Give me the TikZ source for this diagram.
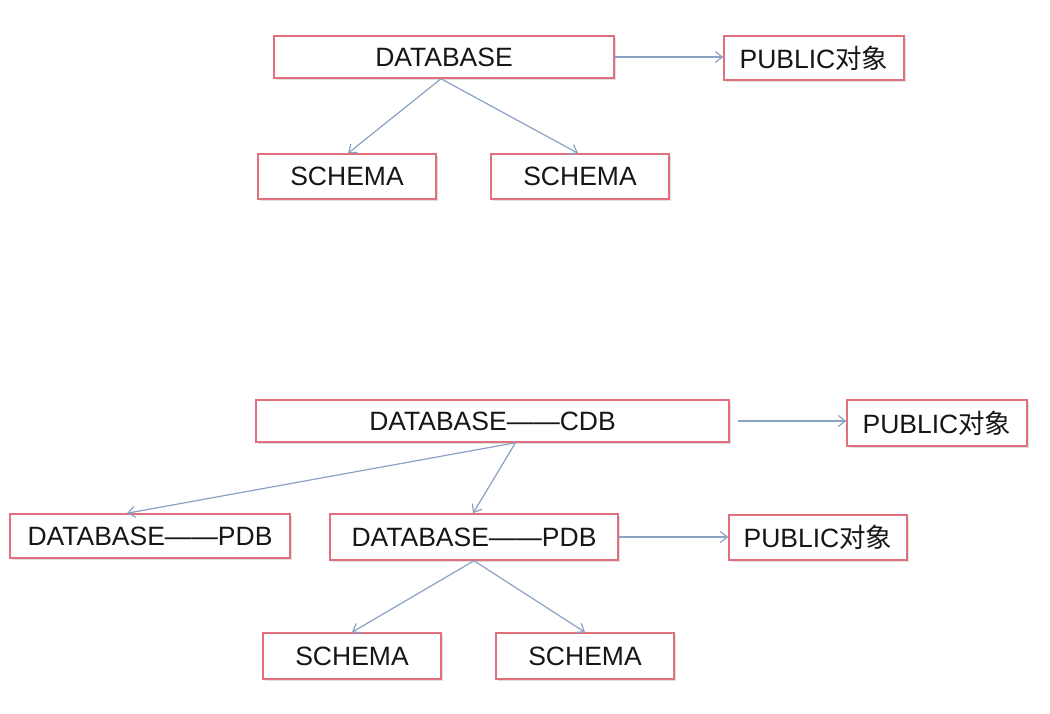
\documentclass[tikz,border=0pt]{standalone}
\usepackage{fontspec}
\setmainfont{Liberation Sans}
\newfontfamily\cjk{Noto Sans CJK SC}
\usetikzlibrary{arrows.meta,shadows}
\definecolor{boxred}{HTML}{E0707C}
\definecolor{arrowblue}{HTML}{8AA2C4}
\definecolor{txt}{HTML}{161616}
\tikzset{
  box/.style={draw=boxred, line width=1.5pt, fill=white, inner sep=0pt,
    font=\fontsize{26.5}{30}\selectfont, text=txt,
    drop shadow={opacity=0.25, shadow xshift=2pt, shadow yshift=-2pt}},
  conn/.style={draw=arrowblue, line width=1.2pt, -{Straight Barb[length=7pt,width=11pt,line width=1.2pt]}}
}
\begin{document}
\begin{tikzpicture}[x=1pt,y=-1pt]
\useasboundingbox (0,0) rectangle (1050,714);
\fill[white] (0,0) rectangle (1050,714);
% top part
\node[box, minimum width=340pt, minimum height=42pt] (db) at (444,57) {DATABASE};
\node[box, minimum width=180pt, minimum height=44pt] (pub1) at (814,58) {PUBLIC{\cjk 对象}};
\node[box, minimum width=178pt, minimum height=45pt] (sc1) at (347,176.5) {SCHEMA};
\node[box, minimum width=178pt, minimum height=45pt] (sc2) at (580,176.5) {SCHEMA};
\draw[conn] ([xshift=-3pt]db.south) -- ([xshift=1pt]sc1.north);
\draw[conn] ([xshift=-3pt]db.south) -- ([xshift=-2pt]sc2.north);
\draw[conn] (db.east) -- (pub1.west |- db.east);
% bottom part
\node[box, minimum width=473pt, minimum height=42pt] (cdb) at (492.5,421) {DATABASE——CDB};
\node[box, minimum width=180pt, minimum height=46pt] (pub2) at (937,423) {PUBLIC{\cjk 对象}};
\node[box, minimum width=280pt, minimum height=44pt] (pdb1) at (150,536) {DATABASE——PDB};
\node[box, minimum width=288pt, minimum height=46pt] (pdb2) at (474,537) {DATABASE——PDB};
\node[box, minimum width=178pt, minimum height=45pt] (pub3) at (818,537.5) {PUBLIC{\cjk 对象}};
\node[box, minimum width=178pt, minimum height=46pt] (sc3) at (352,656) {SCHEMA};
\node[box, minimum width=178pt, minimum height=46pt] (sc4) at (585,656) {SCHEMA};
\draw[conn] ([xshift=8pt]cdb.east) -- (pub2.west |- cdb.east);
\draw[conn] ([xshift=23pt]cdb.south) -- ([xshift=-23pt]pdb1.north);
\draw[conn] ([xshift=23pt]cdb.south) -- ([xshift=-1pt]pdb2.north);
\draw[conn] (pdb2.east) -- (pub3.west |- pdb2.east);
\draw[conn] (pdb2.south) -- (sc3.north);
\draw[conn] (pdb2.south) -- (sc4.north);
\end{tikzpicture}
\end{document}
